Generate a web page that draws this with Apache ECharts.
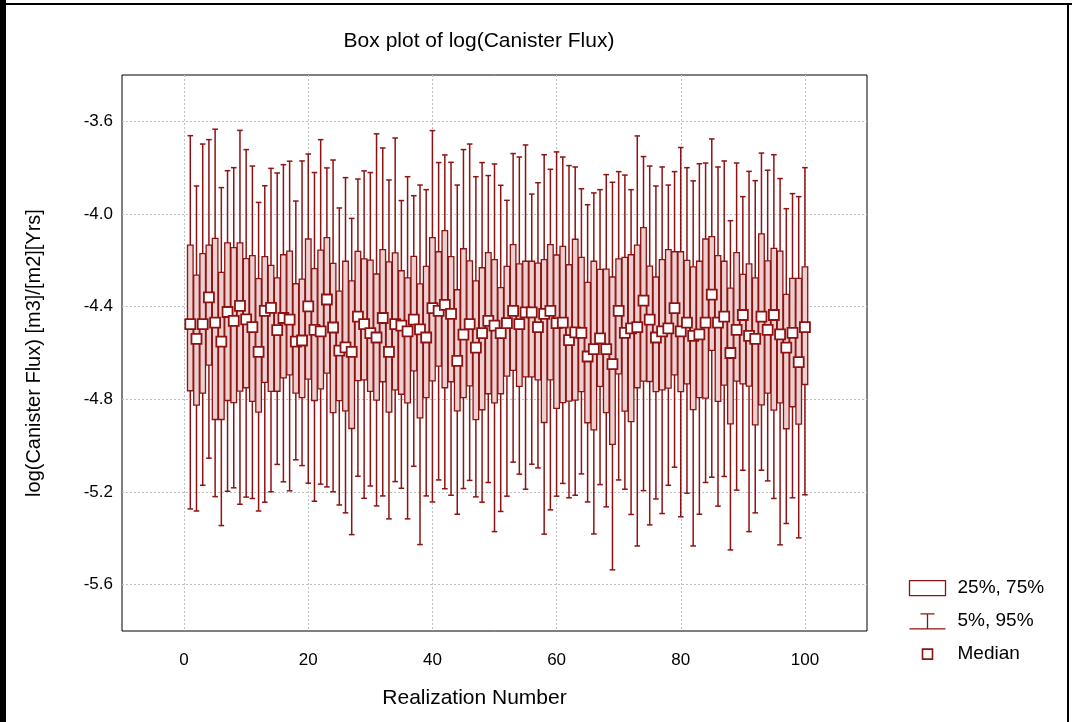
<!DOCTYPE html>
<html><head><meta charset="utf-8">
<script src="https://cdn.jsdelivr.net/npm/echarts@6/dist/echarts.min.js"></script>
<style>html,body{margin:0;padding:0;background:#fff;}#c{width:1072px;height:722px;}</style>
</head><body><div id="c"></div>
<script>
const realization = Array.from({length:100},(_,i)=>i+1);
const p95 = [-3.662,-3.879,-3.698,-3.679,-3.634,-3.886,-3.813,-3.800,-3.639,-3.722,
-3.793,-3.950,-3.878,-3.803,-3.823,-3.787,-3.772,-3.944,-3.771,-3.741,
-3.821,-3.679,-3.801,-3.767,-3.974,-3.843,-4.019,-3.849,-3.814,-3.821,
-3.654,-3.715,-3.853,-3.672,-3.942,-3.839,-3.921,-3.875,-3.895,-3.640,
-3.778,-3.745,-3.777,-3.875,-3.722,-3.698,-3.839,-3.778,-3.834,-3.784,
-3.876,-3.941,-3.739,-3.754,-3.702,-3.914,-3.865,-3.744,-3.807,-3.732,
-3.754,-3.791,-3.797,-3.891,-3.960,-3.909,-3.895,-3.830,-3.863,-3.817,
-3.832,-3.895,-3.663,-3.752,-3.793,-3.879,-3.797,-3.875,-3.817,-3.713,
-3.800,-3.857,-3.783,-3.780,-3.676,-3.797,-3.771,-4.029,-3.780,-3.925,
-3.816,-3.856,-3.737,-3.811,-3.744,-3.847,-3.977,-3.912,-3.925,-3.800];
const q75 = [-4.134,-4.264,-4.171,-4.134,-4.105,-4.252,-4.125,-4.145,-4.125,-4.193,
-4.180,-4.279,-4.184,-4.222,-4.276,-4.176,-4.160,-4.301,-4.281,-4.108,
-4.236,-4.156,-4.102,-4.213,-4.333,-4.204,-4.289,-4.161,-4.194,-4.199,
-4.259,-4.154,-4.207,-4.168,-4.245,-4.276,-4.183,-4.302,-4.226,-4.102,
-4.163,-4.072,-4.184,-4.327,-4.150,-4.202,-4.289,-4.232,-4.167,-4.197,
-4.318,-4.226,-4.132,-4.215,-4.204,-4.204,-4.212,-4.197,-4.132,-4.177,
-4.140,-4.219,-4.109,-4.187,-4.295,-4.204,-4.239,-4.238,-4.272,-4.194,
-4.187,-4.176,-4.134,-4.059,-4.225,-4.272,-4.197,-4.154,-4.163,-4.163,
-4.200,-4.228,-4.204,-4.108,-4.098,-4.180,-4.204,-4.320,-4.167,-4.261,
-4.215,-4.276,-4.086,-4.202,-4.148,-4.160,-4.347,-4.278,-4.278,-4.228];
const median = [-4.475,-4.539,-4.475,-4.360,-4.469,-4.551,-4.423,-4.461,-4.397,-4.455,
-4.488,-4.595,-4.418,-4.405,-4.501,-4.449,-4.456,-4.551,-4.546,-4.399,
-4.500,-4.507,-4.369,-4.490,-4.590,-4.576,-4.595,-4.443,-4.475,-4.514,
-4.533,-4.449,-4.595,-4.475,-4.482,-4.507,-4.456,-4.498,-4.533,-4.406,
-4.418,-4.392,-4.431,-4.634,-4.521,-4.475,-4.577,-4.514,-4.461,-4.482,
-4.514,-4.471,-4.418,-4.475,-4.425,-4.425,-4.488,-4.431,-4.418,-4.471,
-4.469,-4.544,-4.511,-4.513,-4.615,-4.583,-4.537,-4.583,-4.648,-4.418,
-4.513,-4.494,-4.488,-4.374,-4.456,-4.533,-4.507,-4.494,-4.406,-4.507,
-4.469,-4.526,-4.520,-4.469,-4.348,-4.469,-4.443,-4.600,-4.500,-4.436,
-4.526,-4.539,-4.443,-4.500,-4.436,-4.520,-4.577,-4.513,-4.639,-4.488];
const q25 = [-4.763,-4.825,-4.773,-4.652,-4.887,-4.887,-4.805,-4.814,-4.765,-4.750,
-4.809,-4.855,-4.727,-4.766,-4.765,-4.707,-4.694,-4.773,-4.793,-4.713,
-4.805,-4.755,-4.687,-4.857,-4.806,-4.850,-4.926,-4.719,-4.716,-4.766,
-4.803,-4.724,-4.855,-4.759,-4.778,-4.815,-4.677,-4.880,-4.793,-4.720,
-4.657,-4.750,-4.724,-4.850,-4.793,-4.742,-4.888,-4.845,-4.776,-4.815,
-4.776,-4.700,-4.675,-4.744,-4.703,-4.703,-4.716,-4.900,-4.716,-4.839,
-4.814,-4.808,-4.803,-4.767,-4.901,-4.932,-4.744,-4.857,-4.994,-4.690,
-4.851,-4.896,-4.750,-4.721,-4.723,-4.767,-4.759,-4.752,-4.694,-4.767,
-4.733,-4.844,-4.793,-4.795,-4.589,-4.809,-4.739,-4.906,-4.721,-4.733,
-4.743,-4.910,-4.824,-4.773,-4.847,-4.815,-4.927,-4.832,-4.907,-4.736];
const p5 = [-5.273,-5.282,-5.171,-5.054,-5.220,-5.345,-5.197,-5.182,-5.253,-5.222,
-5.228,-5.282,-5.244,-5.199,-5.081,-5.156,-5.195,-5.061,-5.086,-5.162,
-5.240,-5.166,-5.178,-5.199,-5.256,-5.290,-5.384,-5.132,-5.227,-5.174,
-5.260,-5.217,-5.316,-5.155,-5.184,-5.316,-5.089,-5.427,-5.217,-5.243,
-5.148,-5.186,-5.214,-5.296,-5.185,-5.150,-5.221,-5.244,-5.159,-5.371,
-5.284,-5.218,-5.071,-5.123,-5.188,-5.080,-5.096,-5.382,-5.277,-5.218,
-5.163,-5.225,-5.214,-5.122,-5.243,-5.381,-5.168,-5.264,-5.536,-5.148,
-5.188,-5.297,-5.433,-5.194,-5.342,-5.230,-5.293,-5.171,-5.093,-5.307,
-5.205,-5.433,-5.296,-5.159,-5.136,-5.261,-5.133,-5.450,-5.192,-5.106,
-5.371,-5.290,-5.106,-5.152,-5.228,-5.428,-5.336,-5.225,-5.398,-5.212];
const xTicks = [0,20,40,60,80,100];
const yTicks = [-5.6,-5.2,-4.8,-4.4,-4.0,-3.6];
const legendNames = ['25%, 75%','5%, 95%','Median'];

const RED = '#8e1212';
const FONT = 'Liberation Sans, Arial, sans-serif';
const rows = realization.map((x,i)=>[x,p5[i],q25[i],median[i],q75[i],p95[i]]);
const medRows = realization.map((x,i)=>[x,median[i]]);

function renderBox(params, api){
  const x = api.value(0);
  const a = api.coord([x, api.value(4)]);
  const b = api.coord([x, api.value(2)]);
  const w = 5.6;
  return {type:'rect', shape:{x:a[0]-w/2, y:a[1], width:w, height:b[1]-a[1]},
    style:{fill:'#ecd0d0', stroke:RED, lineWidth:1.3}};
}
function renderWhisker(params, api){
  const x = api.value(0);
  const top = api.coord([x, api.value(5)]);
  const u = api.coord([x, api.value(4)]);
  const l = api.coord([x, api.value(2)]);
  const bot = api.coord([x, api.value(1)]);
  const cw = 5.6;
  const st = {stroke:RED, lineWidth:1.5};
  return {type:'group', children:[
    {type:'line', shape:{x1:top[0],y1:top[1],x2:u[0],y2:u[1]}, style:st},
    {type:'line', shape:{x1:l[0],y1:l[1],x2:bot[0],y2:bot[1]}, style:st},
    {type:'line', shape:{x1:top[0]-cw/2,y1:top[1],x2:top[0]+cw/2,y2:top[1]}, style:st},
    {type:'line', shape:{x1:bot[0]-cw/2,y1:bot[1],x2:bot[0]+cw/2,y2:bot[1]}, style:st}
  ]};
}

const chart = echarts.init(document.getElementById('c'));
chart.setOption({
  animation:false,
  backgroundColor:'#fff',
  title:{text:'Box plot of log(Canister Flux)', left:474, top:26, textAlign:'center',
    textStyle:{fontFamily:FONT, fontSize:21, fontWeight:'normal', color:'#000'}},
  legend:{orient:'vertical', left:901, top:573, itemWidth:44, itemHeight:18, itemGap:12,
    symbolKeepAspect:true,
    textStyle:{fontFamily:FONT, fontSize:19, color:'#000'},
    data:[
      {name:legendNames[0], icon:'path://M0,0 M44,18 M1,2 L37,2 L37,17 L1,17 Z', itemStyle:{color:'#fff', borderColor:RED, borderWidth:1.3}},
      {name:legendNames[1], icon:'path://M0,0 M44,18 M12,2 L26,2 M19,2 L19,17 M1,17 L37,17', itemStyle:{color:'none', borderColor:RED, borderWidth:1.3}},
      {name:legendNames[2], icon:'path://M0,0 M44,18 M14,4 L24,4 L24,14 L14,14 Z', itemStyle:{color:'#fff', borderColor:RED, borderWidth:1.6}}
    ]},
  grid:{left:122, top:75, width:745, height:556, show:true, borderColor:'#000', borderWidth:1, backgroundColor:'#fff'},
  xAxis:{type:'value', min:-10, max:110,
    name:'Realization Number', nameLocation:'middle', nameGap:57,
    nameTextStyle:{fontFamily:FONT, fontSize:21, color:'#000', padding:[0,40,0,0]},
    axisLine:{show:false}, axisTick:{show:false, customValues:xTicks},
    axisLabel:{customValues:xTicks, fontFamily:FONT, fontSize:17, color:'#000', margin:21},
    splitLine:{show:true, lineStyle:{color:'#c0c0c0', type:[2,2], width:1}}},
  yAxis:{type:'value', min:-5.8, max:-3.4,
    name:'log(Canister Flux) [m3]/[m2][Yrs]', nameLocation:'middle', nameGap:78,
    nameTextStyle:{fontFamily:FONT, fontSize:20, color:'#000'},
    axisLine:{show:false}, axisTick:{show:false, customValues:yTicks},
    axisLabel:{customValues:yTicks, fontFamily:FONT, fontSize:17, color:'#000', margin:9,
      formatter:v=>v.toFixed(1)},
    splitLine:{show:true, lineStyle:{color:'#c0c0c0', type:[2,2], width:1}}},
  graphic:[
    {type:'rect', shape:{x:0, y:0, width:6, height:722}, style:{fill:'#000'}, silent:true},
    {type:'rect', shape:{x:0, y:3, width:1072, height:2}, style:{fill:'#000'}, silent:true},
    {type:'rect', shape:{x:1067, y:3, width:2, height:719}, style:{fill:'#000'}, silent:true}
  ],
  series:[
    {name:legendNames[1], type:'custom', renderItem:renderWhisker, data:rows,
      encode:{x:0, y:[1,2,3,4,5]}, z:2},
    {name:legendNames[0], type:'custom', renderItem:renderBox, data:rows,
      encode:{x:0, y:[1,2,3,4,5]}, z:3},
    {name:legendNames[2], type:'scatter', data:medRows, symbol:'rect', symbolSize:10,
      itemStyle:{color:'#fff', borderColor:RED, borderWidth:1.8, opacity:1}, z:4}
  ]
});
</script></body></html>
